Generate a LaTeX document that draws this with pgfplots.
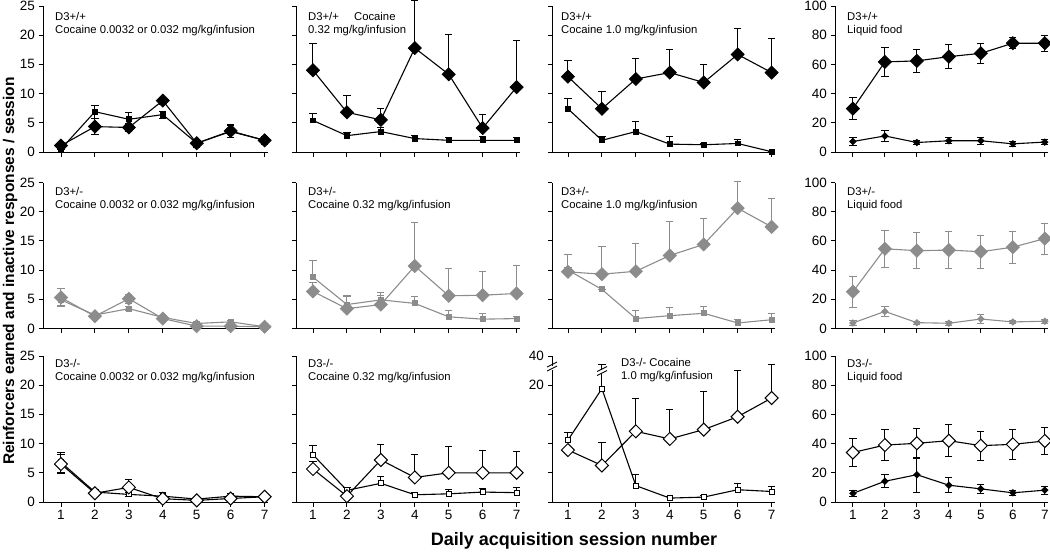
\documentclass[border=0pt]{standalone}
\usepackage{pgfplots}
\pgfplotsset{compat=1.18}
\usepackage{fontspec}
\setmainfont{Liberation Sans}
\definecolor{gr}{RGB}{140,140,140}

\pgfplotsset{
  panel/.style={scale only axis, height=146pt, enlargelimits=false, clip=false,
    axis x line*=bottom, axis y line*=left, tick align=outside,
    major tick length=4.5pt, tick style={black, line width=0.9pt},
    axis line style={black, line width=0.9pt},
    xtick={1,...,7}, xticklabels={},
    /pgf/number format/assume math mode=true,
    tick label style={font=\fontsize{13.5}{15}\selectfont},
    ymin=0, ymax=25, ytick={0,5,...,25}},
  col1/.style={xmin=0.47, xmax=7.1, width=225pt},
  col2/.style={xmin=0.5, xmax=7.1, width=224pt, yticklabels={}},
  col3/.style={xmin=0.53, xmax=7.1, width=223pt, yticklabels={}},
  col4/.style={xmin=0.44, xmax=7.1, width=213pt, ymax=100, ytick={0,20,...,100}},
  bot/.style={xticklabels={1,2,3,4,5,6,7}},
  big/.style={line width=1.1pt, mark=square*, mark size=4.6pt, mark options={rotate=45, line width=0.8pt}},
  bigo/.style={line width=1.1pt, mark=square*, mark size=4.6pt, mark options={rotate=45, fill=white, line width=1pt}},
  sq/.style={line width=1.1pt, mark=square*, mark size=2.4pt},
  sqo/.style={line width=1.1pt, mark=square*, mark size=2.5pt, mark options={fill=white, line width=0.9pt}},
  sd/.style={line width=1.1pt, mark=square*, mark size=2.1pt, mark options={rotate=45}},
  ebu/.style={error bars/.cd, y dir=plus, y explicit,
    error bar style={line width=1pt},
    error mark options={rotate=90, mark size=3.6pt, line width=1pt}},
  ebb/.style={error bars/.cd, y dir=both, y explicit,
    error bar style={line width=1pt},
    error mark options={rotate=90, mark size=3.6pt, line width=1pt}},
}

\begin{document}
\begin{tikzpicture}
\useasboundingbox (0pt,0pt) rectangle (1050pt,-554pt);

% ---------- row 1: D3+/+ ----------
\begin{axis}[panel, col1, at={(43pt,-152pt)}, anchor=south west]
\addplot[black, sq, ebb] coordinates {(1,0.5)+-(0,0.5) (2,6.9)+-(0,1.1) (3,5.6)+-(0,1.1) (4,6.4)+-(0,0.6) (5,1.5)+-(0,0.6) (6,3.5)+-(0,1.0) (7,2.0)+-(0,0.5)};
\addplot[black, big, ebb] coordinates {(1,1.1)+-(0,0.6) (2,4.35)+-(0,1.4) (3,4.2)+-(0,0.7) (4,8.8)+-(0,0.6) (5,1.5)+-(0,0.7) (6,3.6)+-(0,1.1) (7,2.0)+-(0,0.7)};
\end{axis}

\begin{axis}[panel, col2, at={(296pt,-152pt)}, anchor=south west]
\addplot[black, sq, ebu] coordinates {(1,5.4)+-(0,1.2) (2,2.8)+-(0,0.6) (3,3.5)+-(0,0.7) (4,2.3)+-(0,0.5) (5,2.0)+-(0,0.5) (6,2.0)+-(0,0.6) (7,2.0)+-(0,0.4)};
\addplot[black, big, ebu] coordinates {(1,14.0)+-(0,4.5) (2,6.8)+-(0,2.8) (3,5.5)+-(0,2.0) (4,17.8)+-(0,8.2) (5,13.3)+-(0,6.9) (6,4.1)+-(0,2.4) (7,11.1)+-(0,8.0)};
\end{axis}

\begin{axis}[panel, col3, at={(552pt,-152pt)}, anchor=south west]
\addplot[black, sq, ebu] coordinates {(1,7.4)+-(0,1.8) (2,2.0)+-(0,0.6) (3,3.5)+-(0,1.7) (4,1.35)+-(0,1.25) (5,1.24)+-(0,0.3) (6,1.46)+-(0,0.6) (7,0.05)+-(0,0)};
\addplot[black, big, ebu] coordinates {(1,12.9)+-(0,2.8) (2,7.4)+-(0,3.0) (3,12.5)+-(0,3.5) (4,13.6)+-(0,3.9) (5,11.9)+-(0,3.1) (6,16.7)+-(0,4.5) (7,13.6)+-(0,5.9)};
\end{axis}

\begin{axis}[panel, col4, at={(835pt,-152pt)}, anchor=south west]
\addplot[black, sd, ebb] coordinates {(1,7.2)+-(0,2.5) (2,11)+-(0,4) (3,6.5)+-(0,1.5) (4,7.7)+-(0,2) (5,7.7)+-(0,2.5) (6,5.6)+-(0,1.5) (7,6.8)+-(0,2)};
\addplot[black, big, ebb] coordinates {(1,29.7)+-(0,7.4) (2,61.7)+-(0,10) (3,62.4)+-(0,8) (4,65.3)+-(0,8.3) (5,67.6)+-(0,7) (6,74.5)+-(0,3.8) (7,74.5)+-(0,5.6)};
\end{axis}

% ---------- row 2: D3+/- ----------
\begin{axis}[panel, col1, at={(43pt,-328.5pt)}, anchor=south west]
\addplot[gr, sq, ebb] coordinates {(1,4.9)+-(0,1.0) (2,2.3)+-(0,0.3) (3,3.4)+-(0,0.3) (4,1.9)+-(0,0.3) (5,0.86)+-(0,0.3) (6,1.14)+-(0,0.3) (7,0.3)+-(0,0.1)};
\addplot[gr, big, ebb] coordinates {(1,5.3)+-(0,1.5) (2,2.1)+-(0,0.4) (3,5.1)+-(0,0.8) (4,1.7)+-(0,0.4) (5,0.4)+-(0,0.2) (6,0.4)+-(0,0.2) (7,0.3)+-(0,0.1)};
\end{axis}

\begin{axis}[panel, col2, at={(296pt,-328.5pt)}, anchor=south west]
\addplot[gr, sq, ebu] coordinates {(1,8.8)+-(0,2.8) (2,4.1)+-(0,1.6) (3,4.9)+-(0,1.3) (4,4.3)+-(0,1.15) (5,2.0)+-(0,1.1) (6,1.6)+-(0,0.9) (7,1.7)+-(0,0.4)};
\addplot[gr, big, ebu] coordinates {(1,6.35)+-(0,1.5) (2,3.4)+-(0,2.0) (3,4.1)+-(0,1.5) (4,10.7)+-(0,7.4) (5,5.6)+-(0,4.7) (6,5.7)+-(0,4.1) (7,6.0)+-(0,4.8)};
\end{axis}

\begin{axis}[panel, col3, at={(552pt,-328.5pt)}, anchor=south west]
\addplot[gr, sq, ebu] coordinates {(1,10.0)+-(0,0.5) (2,6.7)+-(0,0) (3,1.7)+-(0,1.3) (4,2.2)+-(0,1.45) (5,2.6)+-(0,1.2) (6,0.95)+-(0,0.65) (7,1.5)+-(0,1.0)};
\addplot[gr, big, ebu] coordinates {(1,9.7)+-(0,3.05) (2,9.3)+-(0,4.7) (3,9.8)+-(0,4.7) (4,12.5)+-(0,5.8) (5,14.4)+-(0,4.4) (6,20.6)+-(0,4.6) (7,17.4)+-(0,4.9)};
\end{axis}

\begin{axis}[panel, col4, at={(835pt,-328.5pt)}, anchor=south west]
\addplot[gr, sd, ebb] coordinates {(1,3.8)+-(0,1.5) (2,11.7)+-(0,3.4) (3,4.0)+-(0,1.0) (4,3.6)+-(0,1.5) (5,6.5)+-(0,3.4) (6,4.5)+-(0,1.2) (7,5.0)+-(0,1.5)};
\addplot[gr, big, ebb] coordinates {(1,25.2)+-(0,10.7) (2,54.6)+-(0,12.7) (3,53.3)+-(0,12.3) (4,53.7)+-(0,12.4) (5,52.6)+-(0,11.3) (6,55.7)+-(0,11) (7,61.6)+-(0,10.6)};
\end{axis}

% ---------- row 3: D3-/- ----------
\begin{axis}[panel, col1, bot, at={(43pt,-502pt)}, anchor=south west]
\addplot[black, sqo, ebb] coordinates {(1,6.8)+-(0,1.7) (2,1.7)+-(0,0.5) (3,1.3)+-(0,0.3) (4,1.0)+-(0,0.6) (5,0.5)+-(0,0.3) (6,1.0)+-(0,0.5) (7,0.9)+-(0,0.2)};
\addplot[black, bigo, ebb] coordinates {(1,6.5)+-(0,1.7) (2,1.5)+-(0,0.3) (3,2.5)+-(0,1.3) (4,0.57)+-(0,0.4) (5,0.28)+-(0,0.2) (6,0.6)+-(0,0.4) (7,0.9)+-(0,0.2)};
\end{axis}

\begin{axis}[panel, col2, bot, at={(296pt,-502pt)}, anchor=south west]
\addplot[black, sqo, ebu] coordinates {(1,8.1)+-(0,1.5) (2,2.0)+-(0,0.4) (3,3.2)+-(0,1.2) (4,1.24)+-(0,0.45) (5,1.4)+-(0,0.7) (6,1.7)+-(0,0.6) (7,1.6)+-(0,0.8)};
\addplot[black, bigo, ebu] coordinates {(1,5.65)+-(0,1.2) (2,1.0)+-(0,0) (3,7.2)+-(0,2.6) (4,4.2)+-(0,3.9) (5,5.0)+-(0,4.5) (6,5.0)+-(0,3.75) (7,5.0)+-(0,3.6)};
\end{axis}

\begin{axis}[panel, col3, bot, at={(552pt,-502pt)}, anchor=south west, yticklabels={,,,,20,40}]
\addplot[black, sqo, ebu] coordinates {(1,10.6)+-(0,1.3) (2,19.4)+-(0,4.2) (3,2.8)+-(0,1.9) (4,0.67)+-(0,0.35) (5,0.84)+-(0,0.2) (6,2.1)+-(0,1.1) (7,1.8)+-(0,0.8)};
\addplot[black, bigo, ebu] coordinates {(1,8.9)+-(0,0) (2,6.26)+-(0,4.0) (3,12.1)+-(0,5.7) (4,10.8)+-(0,5.0) (5,12.4)+-(0,6.6) (6,14.6)+-(0,7.9) (7,17.8)+-(0,5.7)};
\end{axis}

\begin{axis}[panel, col4, bot, at={(835pt,-502pt)}, anchor=south west]
\addplot[black, sd, ebb] coordinates {(1,5.9)+-(0,2) (2,14.2)+-(0,4.3) (3,18.7)+-(0,12) (4,11.5)+-(0,5.3) (5,9)+-(0,3.2) (6,6.3)+-(0,1.7) (7,8.1)+-(0,2.8)};
\addplot[black, bigo, ebb] coordinates {(1,33.9)+-(0,9.4) (2,39)+-(0,10.6) (3,40.2)+-(0,10.2) (4,42)+-(0,10.8) (5,38.6)+-(0,10) (6,39.5)+-(0,10.4) (7,41.8)+-(0,9)};
\end{axis}

% axis breaks in the D3-/- 1.0 mg/kg panel
\fill[white] (549pt,-369.5pt) rectangle (555pt,-365.5pt);
\draw[line width=0.9pt] (547pt,-371pt) -- (557pt,-366pt);
\draw[line width=0.9pt] (547pt,-367pt) -- (557pt,-362pt);
\fill[white] (599pt,-374pt) rectangle (605pt,-370pt);
\draw[line width=0.9pt] (597pt,-375.5pt) -- (607pt,-370.5pt);
\draw[line width=0.9pt] (597pt,-371.5pt) -- (607pt,-366.5pt);

% panel texts
\tikzset{ann/.style={anchor=north west, inner sep=0pt, align=left, font=\fontsize{11.3}{13.5}\selectfont}}
\node[ann] at (55pt,-12pt) {D3+/+\\Cocaine 0.0032 or 0.032 mg/kg/infusion};
\node[ann] at (308pt,-12pt) {D3+/+\hspace{12pt} Cocaine\\0.32 mg/kg/infusion};
\node[ann] at (561pt,-12pt) {D3+/+\\Cocaine 1.0 mg/kg/infusion};
\node[ann] at (847pt,-12pt) {D3+/+\\Liquid food};
\node[ann] at (55pt,-187pt) {D3+/-\\Cocaine 0.0032 or 0.032 mg/kg/infusion};
\node[ann] at (308pt,-187pt) {D3+/-\\Cocaine 0.32 mg/kg/infusion};
\node[ann] at (561pt,-187pt) {D3+/-\\Cocaine 1.0 mg/kg/infusion};
\node[ann] at (847pt,-187pt) {D3+/-\\Liquid food};
\node[ann] at (55pt,-359pt) {D3-/-\\Cocaine 0.0032 or 0.032 mg/kg/infusion};
\node[ann] at (308pt,-359pt) {D3-/-\\Cocaine 0.32 mg/kg/infusion};
\node[ann] at (621pt,-358pt) {D3-/- Cocaine\\1.0 mg/kg/infusion};
\node[ann] at (847pt,-359pt) {D3-/-\\Liquid food};

% shared axis labels
\node[rotate=90, font=\bfseries\fontsize{15.5}{17}\selectfont] at (10pt,-271pt) {Reinforcers earned and inactive responses / session};
\node[font=\bfseries\fontsize{18}{20}\selectfont] at (574pt,-541pt) {Daily acquisition session number};
\end{tikzpicture}
\end{document}
